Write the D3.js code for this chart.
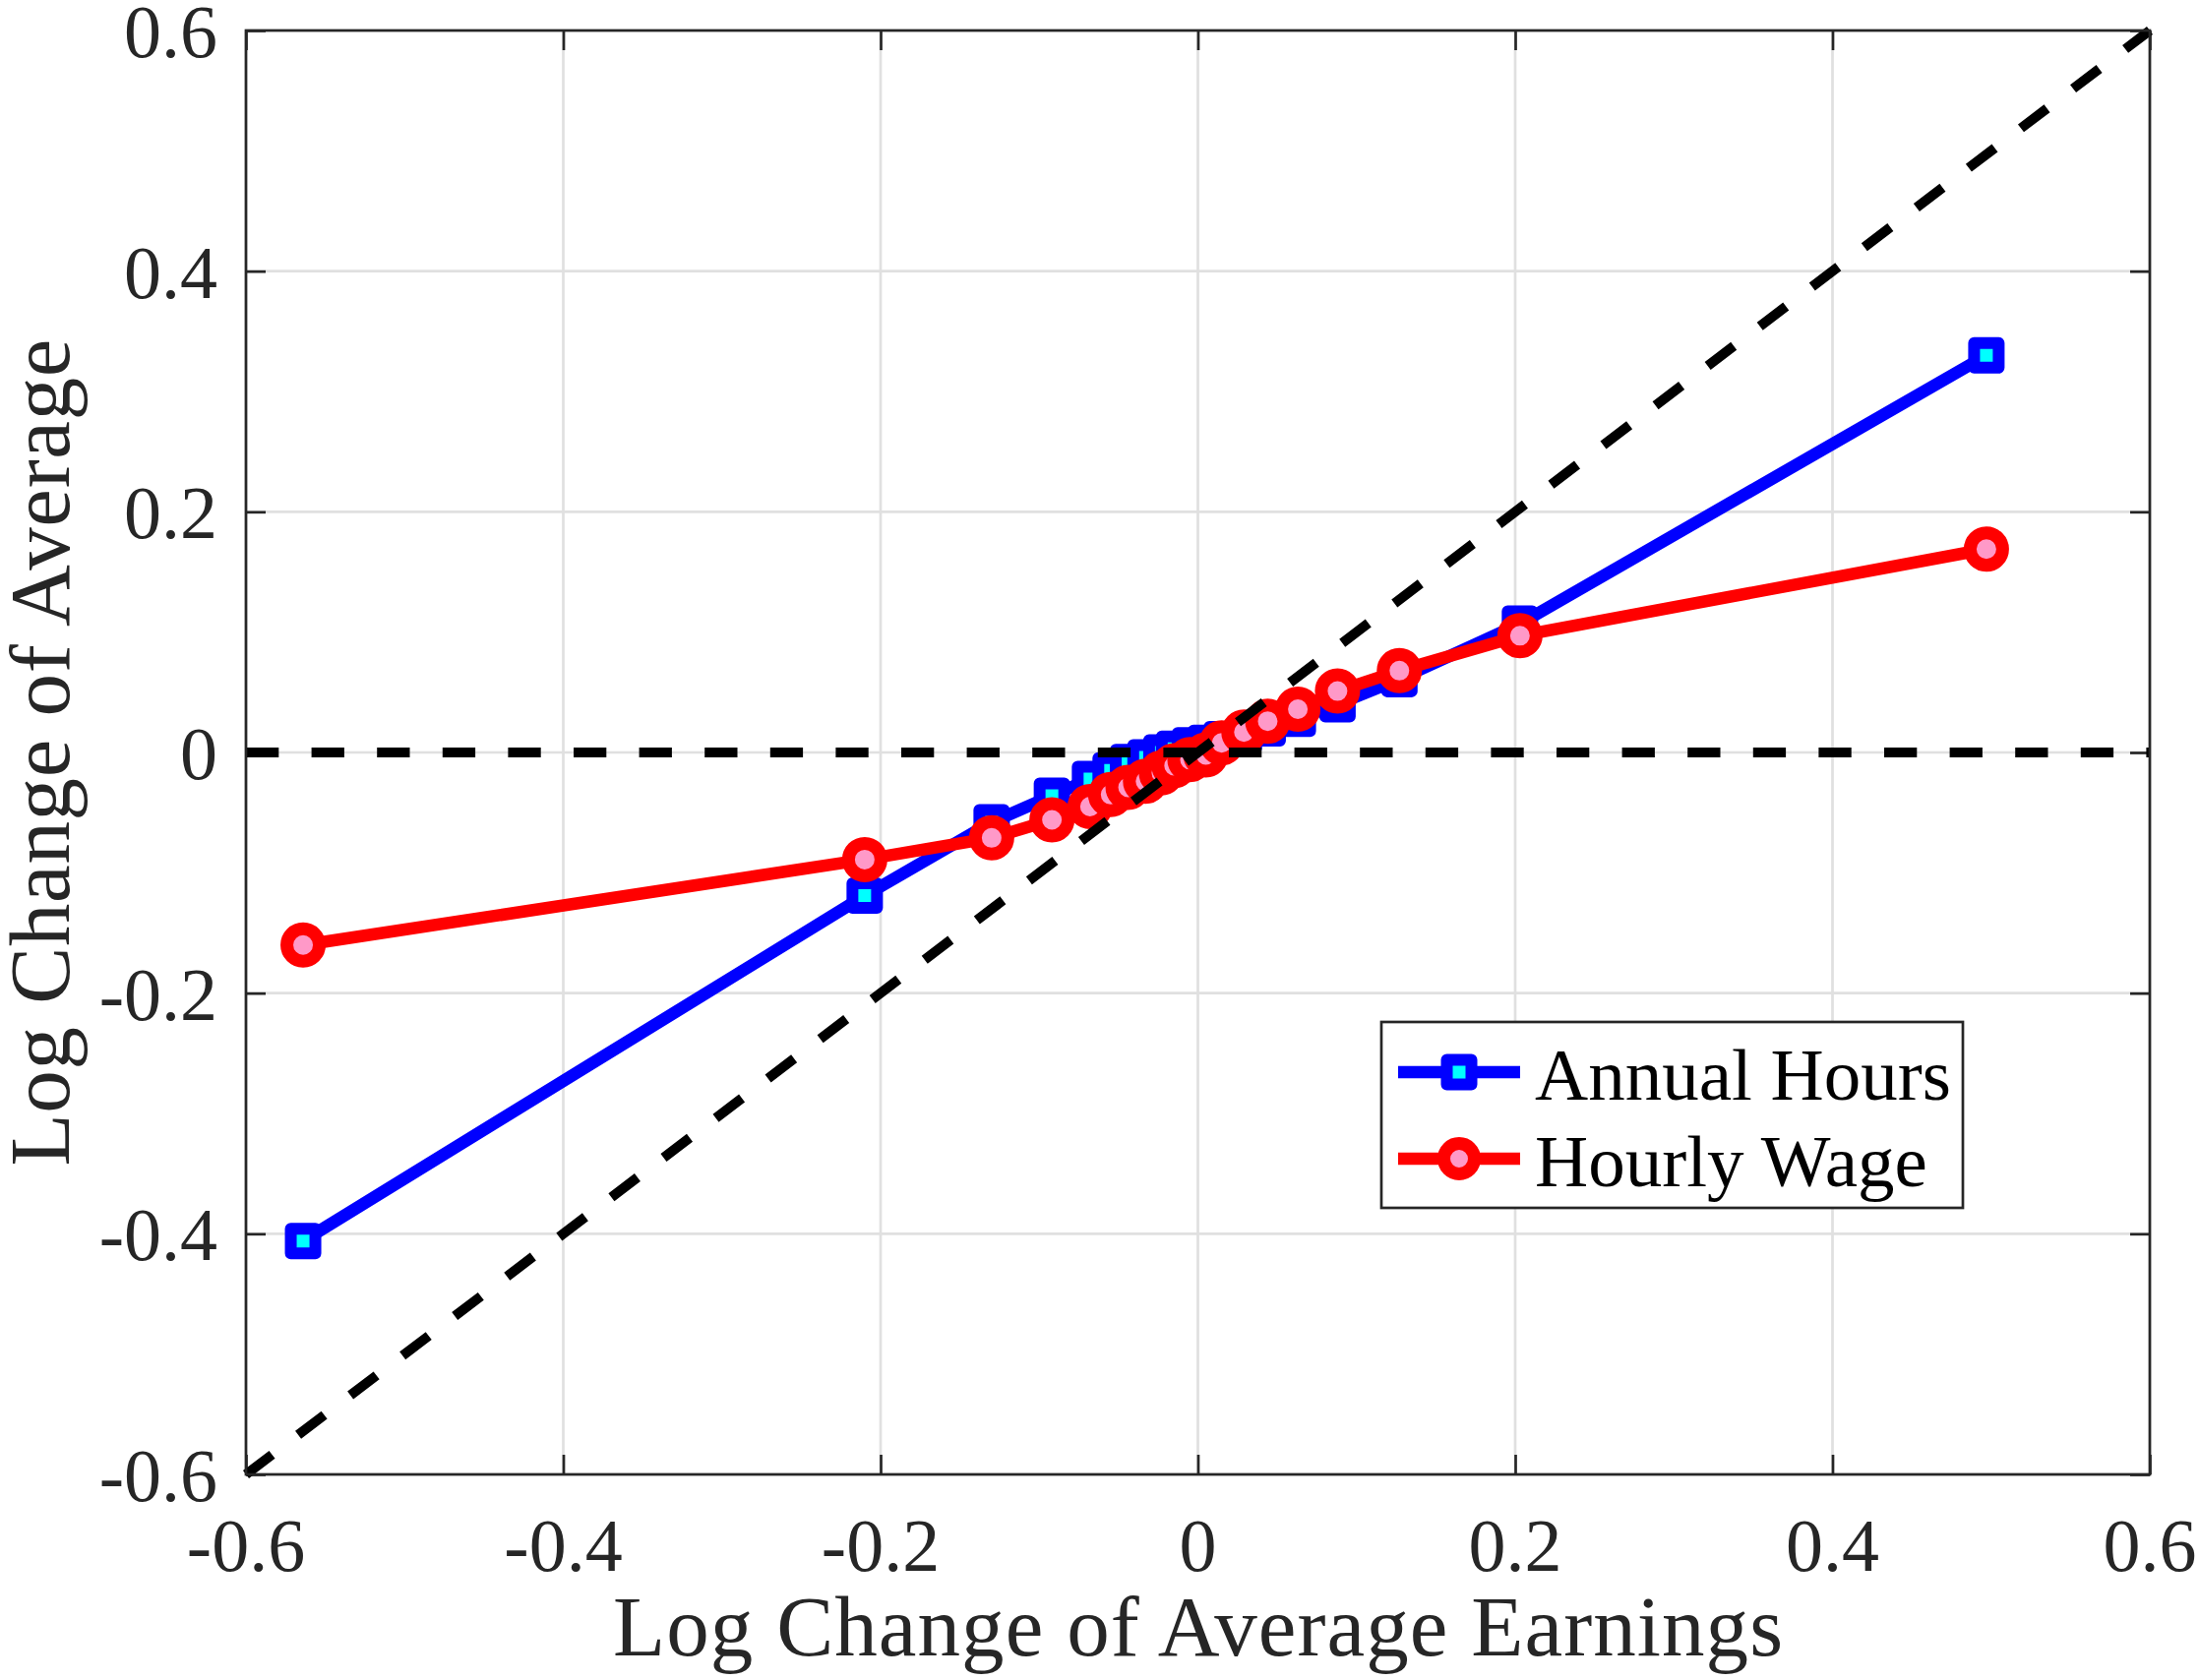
<!DOCTYPE html>
<html>
<head>
<meta charset="utf-8">
<script src="https://cdn.jsdelivr.net/npm/d3@7"></script>
<style>
  html, body { margin: 0; padding: 0; background: #fff; }
  svg { display: block; }
  text { font-family: "Liberation Serif", "Times New Roman", serif; fill: #262626; }
</style>
</head>
<body>
<svg id="chart" width="2235" height="1708"></svg>
<script>
// ---- data ----
const earnings    = [-0.564, -0.210, -0.130, -0.092, -0.068, -0.055, -0.044, -0.033, -0.023, -0.015, -0.005, 0.005, 0.015, 0.029, 0.044, 0.063, 0.088, 0.127, 0.203, 0.497];
const annualHours = [-0.406, -0.119, -0.058, -0.036, -0.022, -0.015, -0.008, -0.004, 0.000, 0.003, 0.006, 0.008, 0.011, 0.014, 0.020, 0.028, 0.040, 0.061, 0.107, 0.330];
const hourlyWage  = [-0.160, -0.089, -0.071, -0.056, -0.045, -0.035, -0.029, -0.024, -0.017, -0.011, -0.006, -0.002, 0.008, 0.017, 0.026, 0.036, 0.051, 0.068, 0.097, 0.169];
const xTicks = [-0.6, -0.4, -0.2, 0, 0.2, 0.4, 0.6];
const yTicks = [-0.6, -0.4, -0.2, 0, 0.2, 0.4, 0.6];
const xTickLabels = ["-0.6", "-0.4", "-0.2", "0", "0.2", "0.4", "0.6"];
const yTickLabels = ["-0.6", "-0.4", "-0.2", "0", "0.2", "0.4", "0.6"];
const seriesNames = ["Annual Hours", "Hourly Wage"];
const xLabel = "Log Change of Average Earnings";
const yLabel = "Log Change of Average";

// ---- layout ----
const L = 250, R = 2185, T = 31, B = 1499;
const svg = d3.select("#chart");
svg.append("rect").attr("width", 2235).attr("height", 1708).attr("fill", "#fff");

const x = d3.scaleLinear().domain([-0.6, 0.6]).range([L, R]);
const y = d3.scaleLinear().domain([-0.6, 0.6]).range([B, T]);

// grid
const grid = svg.append("g");
grid.selectAll(".gx").data(xTicks).enter().append("line")
  .attr("x1", d => x(d)).attr("x2", d => x(d)).attr("y1", T).attr("y2", B)
  .attr("stroke", "#e0e0e0").attr("stroke-width", 2.7);
grid.selectAll(".gy").data(yTicks).enter().append("line")
  .attr("y1", d => y(d)).attr("y2", d => y(d)).attr("x1", L).attr("x2", R)
  .attr("stroke", "#e0e0e0").attr("stroke-width", 2.7);

// axes with inward ticks on all four sides
const tickLen = 20;
const axColor = "#262626";
function styleAxis(g) {
  g.select(".domain").remove();
  g.selectAll(".tick line").attr("stroke", axColor).attr("stroke-width", 2.7);
  g.selectAll(".tick text").remove();
}
svg.append("g").attr("transform", `translate(0,${B})`)
  .call(d3.axisTop(x).tickValues(xTicks).tickSize(tickLen)).call(styleAxis);
svg.append("g").attr("transform", `translate(0,${T})`)
  .call(d3.axisBottom(x).tickValues(xTicks).tickSize(tickLen)).call(styleAxis);
svg.append("g").attr("transform", `translate(${L},0)`)
  .call(d3.axisRight(y).tickValues(yTicks).tickSize(tickLen)).call(styleAxis);
svg.append("g").attr("transform", `translate(${R},0)`)
  .call(d3.axisLeft(y).tickValues(yTicks).tickSize(tickLen)).call(styleAxis);

// tick labels
svg.append("g").selectAll("text").data(xTicks).enter().append("text")
  .attr("x", d => x(d)).attr("y", 1597).attr("text-anchor", "middle")
  .attr("font-size", 76).text((d, i) => xTickLabels[i]);
svg.append("g").selectAll("text").data(yTicks).enter().append("text")
  .attr("x", 221).attr("y", d => y(d) + 27).attr("text-anchor", "end")
  .attr("font-size", 76).text((d, i) => yTickLabels[i]);

// axis labels
svg.append("text").attr("x", (L + R) / 2).attr("y", 1683).attr("text-anchor", "middle")
  .attr("font-size", 87).attr("textLength", 1189).attr("lengthAdjust", "spacing").text(xLabel);
svg.append("text").attr("transform", `translate(70,${(T + B) / 2}) rotate(-90)`)
  .attr("text-anchor", "middle").attr("font-size", 87)
  .attr("textLength", 841).attr("lengthAdjust", "spacing").text(yLabel);

// series
const data = earnings.map((e, i) => ({ e, h: annualHours[i], w: hourlyWage[i] }));
const plot = svg.append("g");

const lineH = d3.line().x(d => x(d.e)).y(d => y(d.h));
plot.append("path").datum(data).attr("d", lineH).attr("fill", "none")
  .attr("stroke", "#0000ff").attr("stroke-width", 12.5).attr("stroke-linejoin", "round");
const sq = 25;
plot.selectAll(".sq").data(data).enter().append("rect")
  .attr("x", d => x(d.e) - sq / 2).attr("y", d => y(d.h) - sq / 2)
  .attr("width", sq).attr("height", sq)
  .attr("fill", "#00ffff").attr("stroke", "#0000ff").attr("stroke-width", 12)
  .attr("stroke-linejoin", "round");

const lineW = d3.line().x(d => x(d.e)).y(d => y(d.w));
plot.append("path").datum(data).attr("d", lineW).attr("fill", "none")
  .attr("stroke", "#ff0000").attr("stroke-width", 12.5).attr("stroke-linejoin", "round");
plot.selectAll(".ci").data(data).enter().append("circle")
  .attr("cx", d => x(d.e)).attr("cy", d => y(d.w)).attr("r", 16.5)
  .attr("fill", "#ff99c8").attr("stroke", "#ff0000").attr("stroke-width", 13);

// reference dashed lines (drawn on top)
svg.append("line").attr("x1", x(-0.6)).attr("y1", y(0)).attr("x2", x(0.6)).attr("y2", y(0))
  .attr("stroke", "#000").attr("stroke-width", 10).attr("stroke-dasharray", "33.3,33.3");
svg.append("line").attr("x1", x(-0.6)).attr("y1", y(-0.6)).attr("x2", x(0.6)).attr("y2", y(0.6))
  .attr("stroke", "#000").attr("stroke-width", 10).attr("stroke-dasharray", "33.3,33.3");

// axis box
svg.append("rect").attr("x", L).attr("y", T).attr("width", R - L).attr("height", B - T)
  .attr("fill", "none").attr("stroke", axColor).attr("stroke-width", 2.7);

// legend
const lg = svg.append("g");
lg.append("rect").attr("x", 1404).attr("y", 1039).attr("width", 591).attr("height", 189)
  .attr("fill", "#fff").attr("stroke", axColor).attr("stroke-width", 2.7);
const rows = [
  { name: seriesNames[0], cy: 1090, color: "#0000ff", type: "sq" },
  { name: seriesNames[1], cy: 1178, color: "#ff0000", type: "ci" }
];
rows.forEach(r => {
  lg.append("line").attr("x1", 1421).attr("x2", 1545).attr("y1", r.cy).attr("y2", r.cy)
    .attr("stroke", r.color).attr("stroke-width", 12.5);
  if (r.type === "sq") {
    lg.append("rect").attr("x", 1483 - 12.5).attr("y", r.cy - 12.5).attr("width", 25).attr("height", 25)
      .attr("fill", "#00ffff").attr("stroke", "#0000ff").attr("stroke-width", 12).attr("stroke-linejoin", "round");
  } else {
    lg.append("circle").attr("cx", 1483).attr("cy", r.cy).attr("r", 15.5)
      .attr("fill", "#ff99c8").attr("stroke", "#ff0000").attr("stroke-width", 13);
  }
  lg.append("text").attr("x", 1560).attr("y", r.cy + 28).attr("font-size", 75)
    .style("fill", "#000").text(r.name);
});
</script>
</body>
</html>
